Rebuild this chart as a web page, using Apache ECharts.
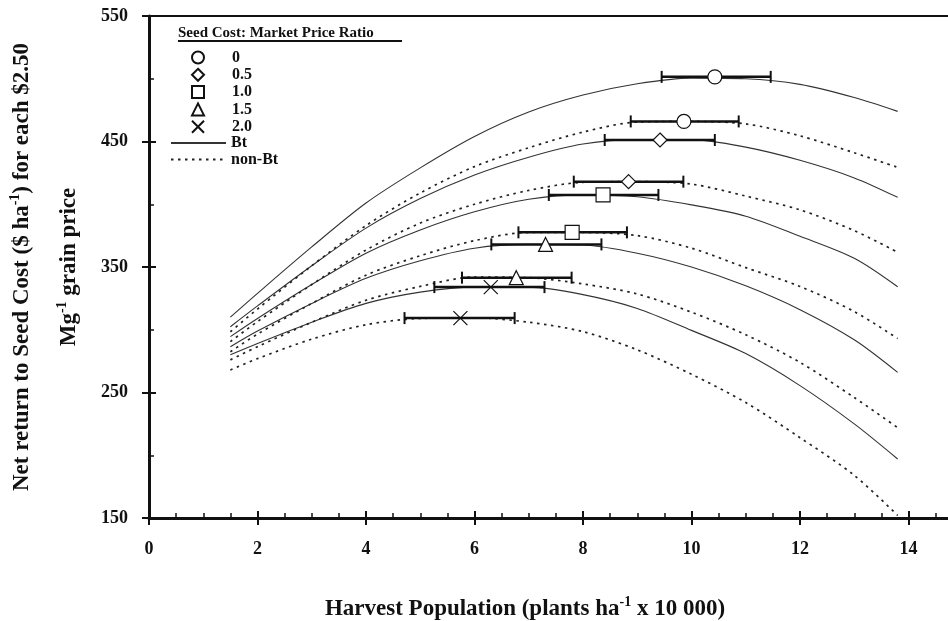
<!DOCTYPE html>
<html>
<head>
<meta charset="utf-8">
<title>Net return to seed cost vs harvest population</title>
<script src="https://cdn.jsdelivr.net/npm/echarts@6/dist/echarts.min.js"></script>
<style>
    html, body { margin: 0; padding: 0; background: #fff; }
    #chart { width: 948px; height: 621px; }
</style>
</head>
<body>
<div id="chart"></div>
<script>
// harvest population (plants ha-1 x 10 000) where the curves were read
var popX = [1.5, 2, 3, 4, 5, 6, 7, 8, 9, 10, 11, 12, 13, 13.8];

// seed cost : market price ratios
var ratios = ['0', '0.5', '1.0', '1.5', '2.0'];

// net return to seed cost ($ ha-1), Bt hybrids, one row per ratio
var btReturn = [
    [310, 329, 366, 401, 429, 454, 473.5, 487, 496, 500.5, 500, 495.5, 485, 474],
    [302.4, 319, 351, 381, 404.5, 423.3, 437.5, 448, 451.5, 451.5, 445.5, 435, 421, 405.5],
    [294.5, 309, 336, 361, 379.5, 394, 404, 407.5, 406, 399.5, 390.5, 374.5, 357, 334.3],
    [286.5, 299, 321, 341, 355, 365, 368, 367.5, 361, 350, 335, 316, 292, 266],
    [280, 289, 306, 321, 330, 334, 334, 328, 317, 299.5, 281, 255.5, 225, 197]
];

// net return to seed cost ($ ha-1), non-Bt hybrids
var nonBtReturn = [
    [298.4, 316.5, 351, 383, 409, 430, 445, 457.5, 465.5, 466, 464, 454.5, 441, 429.4],
    [290.5, 306.5, 336, 363.5, 385, 400, 411, 417.5, 418, 416, 406.5, 395.5, 379, 361.7],
    [282.5, 296.5, 321, 343.5, 359, 371, 377.5, 377.5, 375, 365, 349.5, 334.5, 314.5, 293],
    [276, 286.5, 306, 323.5, 334.5, 342, 341.5, 336.5, 328.5, 314, 296, 274, 246, 222],
    [268, 277, 292.5, 304, 309, 309.5, 306, 298.5, 284, 264.5, 242, 214, 184, 152]
];

// economic optimum [population, return] and its range [low, high]
var btOptimum = [[10.43, 501.5], [9.42, 451.2], [8.37, 407.4], [7.31, 368], [6.30, 334]];
var btRange = [[9.45, 11.46], [8.40, 10.43], [7.37, 9.39], [6.31, 8.34], [5.26, 7.29]];
var nonBtOptimum = [[9.86, 466], [8.84, 418], [7.80, 377.6], [6.77, 341.5], [5.74, 309.3]];
var nonBtRange = [[8.88, 10.87], [7.83, 9.85], [6.81, 8.81], [5.77, 7.79], [4.71, 6.74]];

var markerShapes = ['circle', 'diamond', 'rect', 'triangle', 'path://M0,0L10,10M10,0L0,10'];

var serif = 'Liberation Serif, Times New Roman, serif';
var ink = '#111';
var clear = 'rgba(0,0,0,0)';

var chart = echarts.init(document.getElementById('chart'));

function pairs(values) {
    return popX.map(function (x, j) { return [x, values[j]]; });
}

var series = [];

btReturn.forEach(function (row) {
    series.push({
        type: 'line', name: 'Bt', data: pairs(row), symbol: 'none', smooth: 0.3, z: 2,
        lineStyle: { color: '#333', width: 1.1 }, itemStyle: { color: '#333' }
    });
});
nonBtReturn.forEach(function (row) {
    series.push({
        type: 'line', name: 'non-Bt', data: pairs(row), symbol: 'none', smooth: 0.3, z: 2,
        lineStyle: { color: '#222', width: 1.7, type: [2.5, 4.5] }, itemStyle: { color: '#222' }
    });
});

// range bars round each optimum
var barData = [];
ratios.forEach(function (r, i) {
    barData.push([btRange[i][0], btRange[i][1], btOptimum[i][1]]);
    barData.push([nonBtRange[i][0], nonBtRange[i][1], nonBtOptimum[i][1]]);
});
series.push({
    type: 'custom',
    z: 3,
    silent: true,
    encode: { x: [0, 1], y: 2 },
    data: barData,
    renderItem: function (params, api) {
        var a = api.coord([api.value(0), api.value(2)]);
        var b = api.coord([api.value(1), api.value(2)]);
        var cap = 6;
        return {
            type: 'group',
            children: [
                { type: 'line', shape: { x1: a[0], y1: a[1], x2: b[0], y2: b[1] }, style: { stroke: ink, lineWidth: 2.5 } },
                { type: 'line', shape: { x1: a[0], y1: a[1] - cap, x2: a[0], y2: a[1] + cap }, style: { stroke: ink, lineWidth: 2 } },
                { type: 'line', shape: { x1: b[0], y1: b[1] - cap, x2: b[0], y2: b[1] + cap }, style: { stroke: ink, lineWidth: 2 } }
            ]
        };
    }
});

// optimum markers, one series per ratio
ratios.forEach(function (r, i) {
    series.push({
        type: 'scatter', name: r, symbol: markerShapes[i], symbolSize: 14, z: 4,
        data: [btOptimum[i], nonBtOptimum[i]],
        itemStyle: { color: '#fff', borderColor: ink, borderWidth: 1.2, opacity: 1 }
    });
});

var nameRich = {
    a: { fontFamily: serif, fontWeight: 'bold', fontSize: 23, color: ink, lineHeight: 28 },
    s: { fontFamily: serif, fontWeight: 'bold', fontSize: 14, color: ink, lineHeight: 28, verticalAlign: 'top' }
};
var legendText = { fontFamily: serif, fontWeight: 'bold', fontSize: 16, color: ink };

var option = {
    animation: false,
    backgroundColor: '#fff',
    title: {
        text: 'Seed Cost: Market Price Ratio',
        left: 178, top: 26, padding: 0,
        textStyle: { fontFamily: serif, fontWeight: 'bold', fontSize: 15, color: ink }
    },
    graphic: [
        { type: 'line', shape: { x1: 178, y1: 41, x2: 402, y2: 41 }, style: { stroke: ink, lineWidth: 2 } }
    ],
    legend: [
        {
            orient: 'vertical',
            left: 191, top: 49.5, padding: 0,
            itemWidth: 12, itemHeight: 12, itemGap: 1.3,
            selectedMode: false,
            textStyle: Object.assign({ padding: [0, 0, 0, 23] }, legendText),
            data: ratios
        },
        {
            orient: 'vertical',
            left: 170, top: 135, padding: 0,
            itemWidth: 55, itemHeight: 12, itemGap: 0.6,
            selectedMode: false,
            textStyle: legendText,
            data: [
                { name: 'Bt', itemStyle: { color: clear, borderColor: clear } },
                { name: 'non-Bt', itemStyle: { color: clear, borderColor: clear } }
            ]
        }
    ],
    grid: { left: 149, top: 16, width: 868, height: 502, outerBoundsMode: 'none' },
    xAxis: [
        {
            type: 'value', min: 0, max: 16, interval: 2,
            axisLine: { onZero: false, lineStyle: { color: ink, width: 3 } },
            axisTick: { length: 7, lineStyle: { color: ink, width: 2 } },
            axisLabel: { fontFamily: serif, fontWeight: 'bold', fontSize: 18, color: ink, margin: 22 },
            splitLine: { show: false },
            name: '{a|Harvest Population (plants ha}{s|-1}{a| x 10 000)}',
            nameLocation: 'middle', nameGap: 77,
            nameTextStyle: { rich: nameRich, padding: [0, 116, 0, 0] }
        },
        {
            type: 'value', min: 0, max: 16, interval: 2, position: 'bottom',
            axisLine: { show: false, onZero: false },
            axisTick: { inside: true, length: 7, lineStyle: { color: ink, width: 2 } },
            minorTick: { show: true, splitNumber: 4, length: 5, lineStyle: { color: ink, width: 1.5 } },
            axisLabel: { show: false },
            splitLine: { show: false }
        },
        {
            type: 'value', min: 0, max: 16, position: 'top',
            axisLine: { onZero: false, lineStyle: { color: ink, width: 2 } },
            axisTick: { show: false }, axisLabel: { show: false }, splitLine: { show: false }
        }
    ],
    yAxis: [
        {
            type: 'value', min: 150, max: 550, interval: 100,
            axisLine: { onZero: false, lineStyle: { color: ink, width: 3 } },
            axisTick: { length: 7, lineStyle: { color: ink, width: 2 } },
            axisLabel: { fontFamily: serif, fontWeight: 'bold', fontSize: 18, color: ink, margin: 21 },
            splitLine: { show: false },
            name: '{a|Net return to Seed Cost ($ ha}{s|-1}{a|) for each $2.50}',
            nameLocation: 'middle', nameGap: 113, nameRotate: 90,
            nameTextStyle: { rich: nameRich }
        },
        {
            type: 'value', min: 150, max: 550, interval: 100, position: 'left',
            axisLine: { show: false, onZero: false },
            axisTick: { inside: true, length: 7, lineStyle: { color: ink, width: 2 } },
            minorTick: { show: true, splitNumber: 2, length: 5, lineStyle: { color: ink, width: 1.5 } },
            axisLabel: { show: false },
            splitLine: { show: false },
            name: '{a|Mg}{s|-1}{a| grain price}',
            nameLocation: 'middle', nameGap: 66, nameRotate: 90,
            nameTextStyle: { rich: nameRich }
        }
    ],
    series: series
};

chart.setOption(option);
</script>
</body>
</html>
